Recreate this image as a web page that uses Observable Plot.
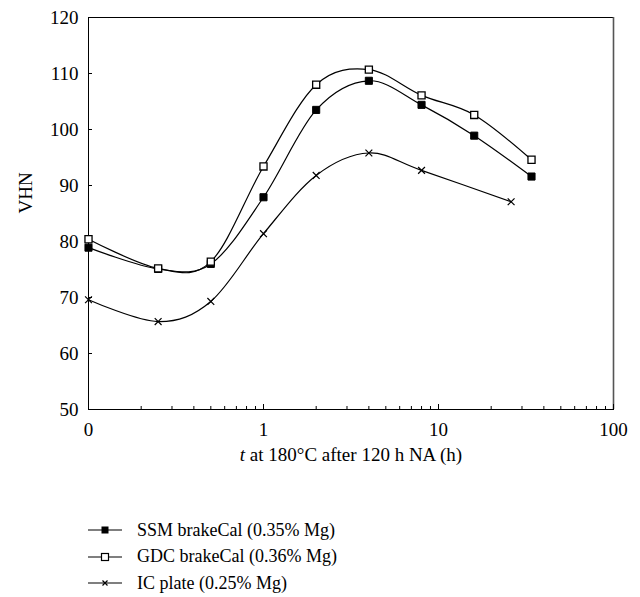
<!DOCTYPE html>
<html><head><meta charset="utf-8">
<script src="https://cdn.jsdelivr.net/npm/d3@7"></script>
<script src="https://cdn.jsdelivr.net/npm/@observablehq/plot@0.6"></script>
<style>
body{margin:0;background:#fff;font-family:"Liberation Serif","Times New Roman",serif;color:#000;}
#chart svg{display:block;}
#chart svg text{font-family:"Liberation Serif","Times New Roman",serif !important;font-variant:normal !important;}
.legend{padding-top:37px;padding-left:88px;font-size:18px;}
.row{height:26.5px;display:flex;align-items:center;}
.row svg{margin-right:15px;flex:none;}
</style></head><body>
<div id="chart"></div>
<div class="legend" id="legend"></div>
<script>
const seriesNames = ["SSM brakeCal (0.35% Mg)", "GDC brakeCal (0.36% Mg)", "IC plate (0.25% Mg)"];
const brakeTimes = [0.1, 0.25, 0.5, 1, 2, 4, 8, 16, 34];
const ssmVHN = [78.9, 75.1, 76.0, 87.9, 103.5, 108.7, 104.4, 98.9, 91.6];
const gdcVHN = [80.4, 75.2, 76.4, 93.4, 108.0, 110.7, 106.1, 102.6, 94.6];
const icTimes = [0.1, 0.25, 0.5, 1, 2, 4, 8, 26];
const icVHN = [69.6, 65.7, 69.3, 81.4, 91.8, 95.8, 92.7, 87.1];
const yTicks = [50, 60, 70, 80, 90, 100, 110, 120];
const xMajorTicks = [0.1, 1, 10, 100];
const xTickLabels = ["0", "1", "10", "100"];
const xMinorTicks = [0.2,0.3,0.4,0.5,0.6,0.7,0.8,0.9,2,3,4,5,6,7,8,9,20,30,40,50,60,70,80,90];

const ssm = brakeTimes.map((t, i) => ({t, v: ssmVHN[i]}));
const gdc = brakeTimes.map((t, i) => ({t, v: gdcVHN[i]}));
const ic = icTimes.map((t, i) => ({t, v: icVHN[i]}));

const font = '"Liberation Serif","Times New Roman",serif';
const curve = "cardinal";

const plot = Plot.plot({
  width: 640, height: 480,
  marginLeft: 88, marginRight: 27, marginTop: 17, marginBottom: 71,
  style: {fontFamily: font, fontSize: "19px", background: "#fff", color: "#000"},
  x: {type: "log", domain: [0.1, 100]},
  y: {domain: [50, 120]},
  marks: [
    Plot.frame({stroke: "#000", strokeWidth: 1}),
    Plot.ruleX([100], {stroke: "#555", strokeWidth: 1.6}),
    Plot.axisY({ticks: yTicks, tickSize: 4, dx: 4, text: null, label: null}),
    Plot.axisY({ticks: yTicks, tickSize: 0, tickPadding: 10, label: null, fontSize: 19, fontFamily: font}),
    Plot.axisX({ticks: xMinorTicks, tickSize: 3, dy: -3, text: null, label: null}),
    Plot.axisX({ticks: xMajorTicks, tickSize: 5, dy: -5, text: null, label: null}),
    Plot.axisX({ticks: xMajorTicks, tickSize: 0, tickPadding: 13, fontSize: 19, fontFamily: font,
      tickFormat: d => xTickLabels[xMajorTicks.indexOf(d)],
      label: "t at 180°C after 120 h NA (h)", labelAnchor: "center", labelOffset: 51}),
    Plot.line(ssm, {x: "t", y: "v", curve, stroke: "#000", strokeWidth: 1.2}),
    Plot.line(gdc, {x: "t", y: "v", curve, stroke: "#000", strokeWidth: 1.2}),
    Plot.line(ic, {x: "t", y: "v", curve, stroke: "#000", strokeWidth: 1.2}),
    Plot.dot(ssm, {x: "t", y: "v", symbol: "square", r: 4, fill: "#000", stroke: "#000", strokeWidth: 1}),
    Plot.dot(gdc, {x: "t", y: "v", symbol: "square", r: 4, fill: "#fff", stroke: "#000", strokeWidth: 1.3}),
    Plot.dot(ic, {x: "t", y: "v", symbol: "times", r: 3.2, stroke: "#000", strokeWidth: 1.2}),
    Plot.text(["VHN"], {frameAnchor: "left", dx: -63, rotate: -90, fontSize: 19, fontFamily: font, text: d => d})
  ]
});
document.getElementById("chart").appendChild(plot);

// italic "t" in the x-axis label
d3.select(plot).selectAll('g[aria-label="x-axis label"] text').each(function() {
  const el = d3.select(this);
  el.text(null);
  el.append("tspan").attr("font-style", "italic").text("t");
  el.append("tspan").text(" at 180°C after 120 h NA (h)");
});

// legend
const legend = d3.select("#legend");
seriesNames.forEach((name, i) => {
  const row = legend.append("div").attr("class", "row");
  const s = row.append("svg").attr("width", 34).attr("height", 14);
  s.append("line").attr("x1", 0).attr("x2", 34).attr("y1", 7).attr("y2", 7).attr("stroke", "#000").attr("stroke-width", 1.2);
  if (i === 0) s.append("rect").attr("x", 13.5).attr("y", 3.5).attr("width", 7).attr("height", 7).attr("fill", "#000");
  else if (i === 1) s.append("rect").attr("x", 13.5).attr("y", 3.5).attr("width", 7).attr("height", 7).attr("fill", "#fff").attr("stroke", "#000").attr("stroke-width", 1.2);
  else { s.append("path").attr("d", "M14.5,4.5L19.5,9.5M19.5,4.5L14.5,9.5").attr("stroke", "#000").attr("stroke-width", 1.2); }
  row.append("span").text(name);
});
</script>
</body></html>
